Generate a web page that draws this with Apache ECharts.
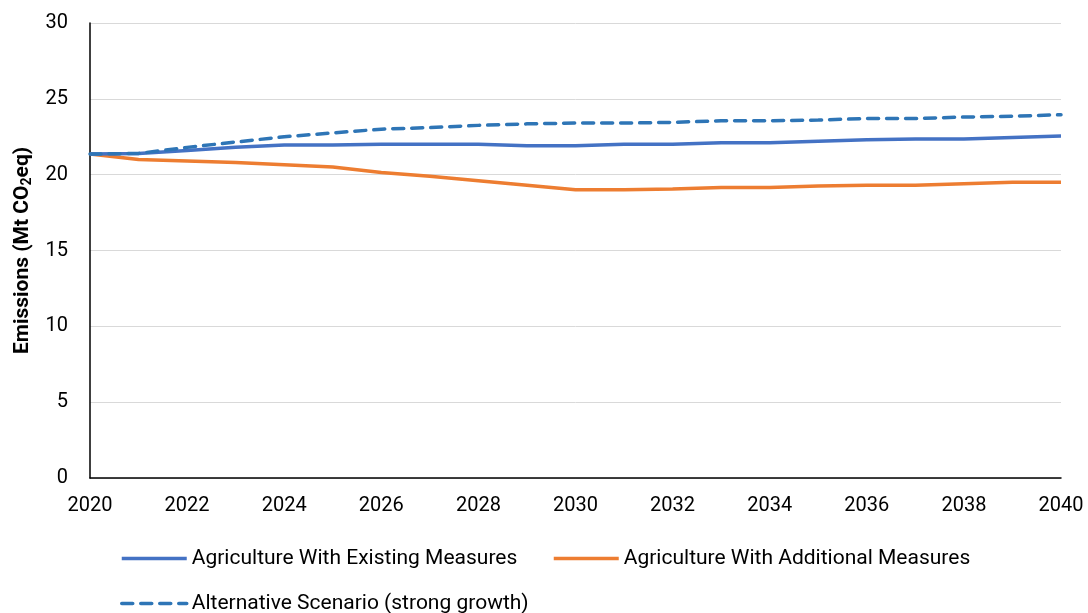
<!DOCTYPE html>
<html>
<head>
<meta charset="utf-8">
<script src="https://cdn.jsdelivr.net/npm/echarts@6/dist/echarts.min.js"></script>
<style>html,body{margin:0;padding:0;background:#fff}#c{width:1088px;height:613px}</style>
</head>
<body>
<div id="c"></div>
<script>
const years = ['2020','2021','2022','2023','2024','2025','2026','2027','2028','2029','2030','2031','2032','2033','2034','2035','2036','2037','2038','2039','2040'];
const existing = [21.36,21.4,21.6,21.8,21.95,21.95,22.0,22.0,22.0,21.9,21.9,22.0,22.0,22.1,22.1,22.2,22.3,22.35,22.35,22.45,22.55];
const additional = [21.36,21.0,20.9,20.8,20.65,20.5,20.15,19.9,19.6,19.3,19.0,19.0,19.05,19.15,19.15,19.25,19.3,19.3,19.4,19.5,19.5];
const alternative = [21.36,21.4,21.8,22.15,22.5,22.75,23.0,23.1,23.25,23.35,23.4,23.4,23.45,23.55,23.55,23.6,23.7,23.7,23.8,23.85,23.95];
const names = ['Agriculture With Existing Measures','Agriculture With Additional Measures','Alternative Scenario (strong growth)'];

const font = 'Roboto, "DejaVu Sans", sans-serif';
const chart = echarts.init(document.getElementById('c'), null, {renderer:'canvas'});
const legendText = {fontSize:21, color:'#000', fontFamily:font};
const legendBase = {itemWidth:65, itemHeight:14, padding:0, textStyle:legendText,
  itemStyle:{opacity:0}, lineStyle:{width:3.5}};
chart.setOption({
  animation:false,
  grid:{left:90, right:27, top:23, bottom:135, containLabel:false},
  legend:[
    Object.assign({data:[names[0]], left:120, top:548}, legendBase),
    Object.assign({data:[names[1]], left:552, top:548}, legendBase),
    Object.assign({data:[names[2]], left:120, top:593}, legendBase)
  ],
  xAxis:{
    type:'category', data:years, boundaryGap:false,
    axisLine:{lineStyle:{color:'#000', width:1.5}},
    axisTick:{show:false},
    axisLabel:{interval:1, color:'#000', fontSize:20, fontFamily:font, margin:18}
  },
  yAxis:{
    type:'value', min:0, max:30, interval:5,
    name:'Emissions (Mt CO{sub|2}eq)', nameLocation:'middle', nameGap:55,
    nameTextStyle:{fontSize:21, color:'#000', fontFamily:font, fontWeight:'bold',
      rich:{sub:{fontSize:14, fontFamily:font, fontWeight:'bold', color:'#000', verticalAlign:'bottom', padding:[9,0,0,0]}}},
    axisLine:{show:true, lineStyle:{color:'#000', width:1.5}},
    axisTick:{show:false},
    axisLabel:{color:'#000', fontSize:20, fontFamily:font, margin:22},
    splitLine:{lineStyle:{color:'#d9d9d9', width:1}}
  },
  series:[
    {name:names[0], type:'line', data:existing, symbol:'none',
      lineStyle:{color:'#4472C4', width:3.5}, itemStyle:{color:'#4472C4'}, z:3},
    {name:names[1], type:'line', data:additional, symbol:'none',
      lineStyle:{color:'#ED7D31', width:3.5}, itemStyle:{color:'#ED7D31'}, z:2},
    {name:names[2], type:'line', data:alternative, symbol:'none',
      lineStyle:{color:'#2E75B6', width:3.5, type:[11,8], cap:'round'}, itemStyle:{color:'#2E75B6'}, z:4}
  ]
});
</script>
</body>
</html>
